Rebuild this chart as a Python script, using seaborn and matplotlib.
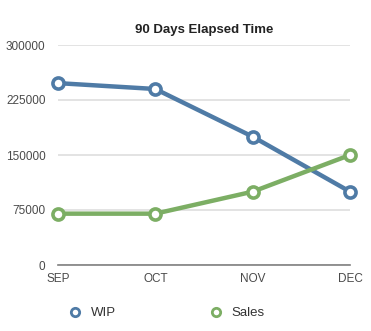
import matplotlib
matplotlib.use("Agg")
import matplotlib.pyplot as plt
import seaborn as sns
import pandas as pd
from matplotlib.lines import Line2D

months = ["SEP", "OCT", "NOV", "DEC"]
wip = [248000, 240000, 175000, 100000]
sales = [70000, 70000, 100000, 150000]
series_names = ["WIP", "Sales"]
colors = ["#4f7ba6", "#7cae64"]
yticks = [0, 75000, 150000, 225000, 300000]

df = pd.DataFrame({
    "month": months * 2,
    "value": wip + sales,
    "series": [series_names[0]] * 4 + [series_names[1]] * 4,
})
df["pos"] = [0, 1, 2, 3] * 2

sns.set_style("white")
plt.rcParams["font.family"] = ["Liberation Sans", "DejaVu Sans"]

fig = plt.figure(figsize=(3.71, 3.31), dpi=100)
ax = fig.add_axes([58 / 371, 1 - 265 / 331, (350 - 58) / 371, (265 - 45) / 331])

sns.lineplot(data=df, x="pos", y="value", hue="series", palette=colors,
             linewidth=3.2, marker="o", markersize=8, markerfacecolor="white",
             markeredgewidth=2.6, ax=ax, legend=False, clip_on=False, zorder=3)
for line, c in zip(ax.get_lines(), colors):
    line.set_markeredgecolor(c)
    line.set_clip_on(False)

ax.set_xlim(0, 3)
ax.set_ylim(0, 300000)
ax.set_yticks(yticks)
ax.set_yticklabels([str(v) for v in yticks])
ax.set_xticks(range(4))
ax.set_xticklabels(months)
ax.grid(axis="y", color="#dedede", linewidth=1.2)
ax.set_axisbelow(True)
for s in ["top", "right", "left"]:
    ax.spines[s].set_visible(False)
ax.spines["bottom"].set_color("#808080")
ax.spines["bottom"].set_linewidth(1.2)
ax.tick_params(axis="both", length=0, labelsize=8.5, colors="#4a4a4a")
ax.tick_params(axis="y", pad=9)
ax.tick_params(axis="x", pad=6)
ax.set_xlabel("")
ax.set_ylabel("")
ax.set_title("90 Days Elapsed Time", fontsize=9.5, fontweight="bold", pad=9, color="#222222")

handles = [Line2D([], [], linestyle="none", marker="o", markersize=6,
                  markerfacecolor="white", markeredgecolor=c, markeredgewidth=2)
           for c in colors]
fig.legend(handles, series_names, loc="center", bbox_to_anchor=(0.447, 1 - 313 / 331),
           ncol=2, frameon=False, fontsize=9.5, columnspacing=7.0, handlelength=1.2,
           handletextpad=0.6, labelcolor="#333333")

fig.savefig("out.png", dpi=100)
